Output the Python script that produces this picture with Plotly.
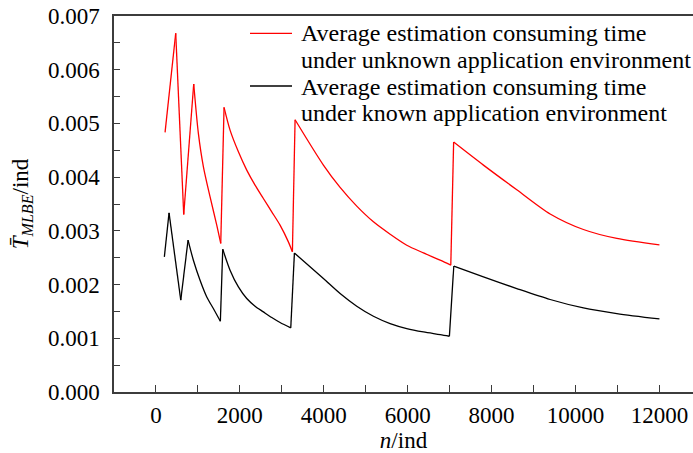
import plotly.graph_objects as go

# Average estimation consuming time vs. sample size n
n_unknown = [217, 471, 662, 900, 1011, 1131, 1290, 1449, 1544, 1623, 1766, 1965, 2164, 2362,
             2560, 2760, 2958, 3156, 3252, 3316, 3991, 4389, 4786, 5183, 5581, 5978, 6375,
             6773, 7027, 7095, 7805, 8600, 9395, 10188, 10985, 12000]
t_unknown = [0.004833, 0.006678, 0.003305, 0.005733, 0.004815, 0.004193, 0.003633, 0.003106,
             0.002765, 0.005299, 0.004876, 0.004472, 0.004131, 0.003851, 0.003603, 0.003354,
             0.003106, 0.002795, 0.002609, 0.005068, 0.004224, 0.003808, 0.003460, 0.003168,
             0.002938, 0.002733, 0.002590, 0.002454, 0.002361, 0.004653, 0.004224, 0.003765,
             0.003315, 0.003025, 0.002858, 0.002739]
# index ranges (start, end) of the smooth decay stretches between jumps
decays_unknown = [(3, 8), (9, 18), (19, 28), (29, 35)]

n_known = [200, 312, 591, 765, 892, 1051, 1211, 1368, 1535, 1592, 1766, 1965, 2164, 2362,
           2560, 2760, 2958, 3213, 3300, 3991, 4389, 4786, 5183, 5581, 5978, 6375, 6773,
           6994, 7099, 7805, 8600, 9395, 10188, 10985, 12000]
t_known = [0.002516, 0.003335, 0.001709, 0.002827, 0.002454, 0.002081, 0.001770, 0.001554,
           0.001317, 0.002659, 0.002268, 0.001956, 0.001740, 0.001597, 0.001491, 0.001386,
           0.001293, 0.001193, 0.002587, 0.002113, 0.001833, 0.001597, 0.001410, 0.001274,
           0.001181, 0.001118, 0.001069, 0.001038, 0.002345, 0.002143, 0.001926, 0.001722,
           0.001565, 0.001461, 0.001360]
decays_known = [(3, 8), (9, 17), (18, 27), (28, 34)]

x_ticks = [0, 2000, 4000, 6000, 8000, 10000, 12000]
y_ticks = [0.000, 0.001, 0.002, 0.003, 0.004, 0.005, 0.006, 0.007]
y_tick_text = [f"{v:.3f}" for v in y_ticks]

legend_rows = ["Average estimation consuming time",
               "under unknown application environment",
               "Average estimation consuming time",
               "under known application environment"]

FONT = "Liberation Serif"
AXIS_COLOR = "#3c3c3c"
LW = 1.3


def split_series(xs, ys, decays):
    """Return (straight, smooth) x/y lists: jumps drawn straight, decays smoothed."""
    inside = set()
    sx, sy = [], []
    for a, b in decays:
        inside.update(range(a, b))
        sx += xs[a:b + 1] + [None]
        sy += ys[a:b + 1] + [None]
    lx, ly = [], []
    for i in range(len(xs) - 1):
        if i not in inside:
            lx += [xs[i], xs[i + 1], None]
            ly += [ys[i], ys[i + 1], None]
    return (lx, ly), (sx, sy)


fig = go.Figure()
for xs, ys, dec, col, name in [
    (n_unknown, t_unknown, decays_unknown, "#ff0000", legend_rows[0] + " " + legend_rows[1]),
    (n_known, t_known, decays_known, "#000000", legend_rows[2] + " " + legend_rows[3]),
]:
    (lx, ly), (sx, sy) = split_series(xs, ys, dec)
    fig.add_trace(go.Scatter(x=lx, y=ly, mode="lines", line=dict(color=col, width=LW),
                             name=name, showlegend=False, connectgaps=False))
    fig.add_trace(go.Scatter(x=sx, y=sy, mode="lines",
                             line=dict(color=col, width=LW, shape="spline", smoothing=0.8),
                             name=name, showlegend=False, connectgaps=False))

# Legend drawn as line samples plus text rows
L, R, T, B = 114, 693, 16, 392
W, H = R - L, B - T


def px(xp):
    return (xp - L) / W


def py(yp):
    return (B - yp) / H


for yp, col in [(33.3, "#ff0000"), (86.0, "#000000")]:
    fig.add_shape(type="line", xref="paper", yref="paper",
                  x0=px(250), x1=px(292), y0=py(yp), y1=py(yp),
                  line=dict(color=col, width=LW))

for txt, yp in zip(legend_rows, [33, 60, 86.5, 113]):
    fig.add_annotation(text=txt, xref="paper", yref="paper", x=px(298.5), y=py(yp),
                       xanchor="left", yanchor="middle", showarrow=False,
                       font=dict(family=FONT, size=24, color="black"))

fig.update_layout(
    width=693, height=453,
    margin=dict(l=L, r=693 - R, t=T, b=453 - B),
    plot_bgcolor="white", paper_bgcolor="white",
    font=dict(family=FONT, size=23, color="black"),
)

fig.update_xaxes(
    range=[-1000, 12800], tickvals=x_ticks, ticktext=[str(v) for v in x_ticks],
    showgrid=False, zeroline=False,
    showline=True, linecolor=AXIS_COLOR, linewidth=1.5, mirror=True,
    ticks="inside", ticklen=7, tickwidth=1.2, tickcolor=AXIS_COLOR,
    minor=dict(dtick=1000, tick0=0, ticks="inside", ticklen=7, tickwidth=1.2, tickcolor=AXIS_COLOR),
    tickfont=dict(family=FONT, size=23, color="black"), ticklabelstandoff=2,
    title=dict(text="<i>n</i>/ind", font=dict(family=FONT, size=23, color="black"), standoff=4),
)
fig.update_yaxes(
    range=[0, 0.007], tickvals=y_ticks, ticktext=y_tick_text,
    showgrid=False, zeroline=False,
    showline=True, linecolor=AXIS_COLOR, linewidth=1.5,
    ticks="inside", ticklen=6, tickwidth=1.2, tickcolor=AXIS_COLOR,
    minor=dict(dtick=0.0005, tick0=0, ticks="inside", ticklen=6, tickwidth=1.2, tickcolor=AXIS_COLOR),
    tickfont=dict(family=FONT, size=23, color="black"), ticklabelstandoff=8,
    title=dict(text="<i>T\u0304</i><sub><i>MLBE</i></sub>/ind",
               font=dict(family=FONT, size=23, color="black"), standoff=13),
)

fig.write_html("out.html")
